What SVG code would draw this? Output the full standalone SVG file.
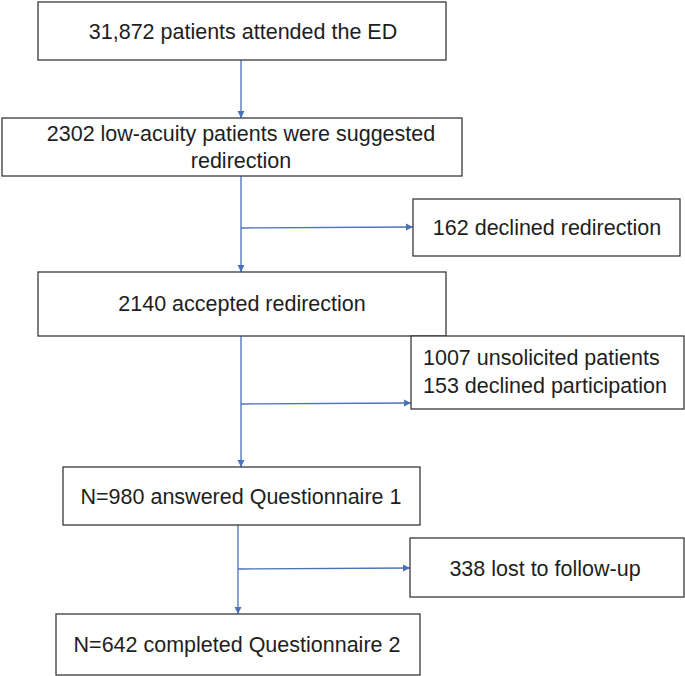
<svg xmlns="http://www.w3.org/2000/svg" width="685" height="676" viewBox="0 0 685 676">
<style>
.box{fill:#fff;stroke:#3a3a3a;stroke-width:1.3}
.t{font-family:"Liberation Sans",Arial,sans-serif;font-size:21.5px;fill:#1e1e1e;text-anchor:middle}
.tl{font-family:"Liberation Sans",Arial,sans-serif;font-size:21.5px;fill:#1e1e1e;text-anchor:start}
.c{stroke:#4a72b8;stroke-width:1.3;fill:none;marker-end:url(#ah)}
</style>
<defs>
<marker id="ah" markerWidth="8" markerHeight="8" refX="7" refY="4" orient="auto" markerUnits="userSpaceOnUse">
<path d="M0,0.5 L7,4 L0,7.5 Z" fill="#4a72b8"/>
</marker>
</defs>
<rect width="685" height="676" fill="#fff"/>
<g id="connectors">
<line class="c" x1="241" y1="60" x2="241" y2="118"/>
<line class="c" x1="241" y1="176" x2="241" y2="272"/>
<line class="c" x1="241" y1="228" x2="413" y2="227"/>
<line class="c" x1="241" y1="336" x2="241" y2="467"/>
<line class="c" x1="241" y1="404" x2="411" y2="403"/>
<line class="c" x1="238" y1="525" x2="238" y2="614"/>
<line class="c" x1="238" y1="569" x2="410" y2="568"/>
</g>
<g id="n1"><rect class="box" x="38" y="2" width="408" height="58"/><text class="t" x="243" y="39">31,872 patients attended the ED</text></g>
<g id="n2"><rect class="box" x="2" y="118" width="460" height="58"/><text class="t" x="241" y="141">2302 low-acuity patients were suggested</text><text class="t" x="241" y="168">redirection</text></g>
<g id="n3"><rect class="box" x="413" y="199" width="267" height="57"/><text class="t" x="547" y="235">162 declined redirection</text></g>
<g id="n4"><rect class="box" x="38" y="272" width="408" height="64"/><text class="t" x="242" y="311">2140 accepted redirection</text></g>
<g id="n5"><rect class="box" x="411" y="336" width="273" height="73"/><text class="tl" x="423" y="365">1007 unsolicited patients</text><text class="tl" x="423" y="393">153 declined participation</text></g>
<g id="n6"><rect class="box" x="63" y="467" width="357" height="58"/><text class="t" x="241" y="504">N=980 answered Questionnaire 1</text></g>
<g id="n7"><rect class="box" x="410" y="538" width="274" height="59"/><text class="t" x="545" y="576">338 lost to follow-up</text></g>
<g id="n8"><rect class="box" x="56" y="614" width="364" height="61"/><text class="t" x="237" y="652">N=642 completed Questionnaire 2</text></g>
</svg>
